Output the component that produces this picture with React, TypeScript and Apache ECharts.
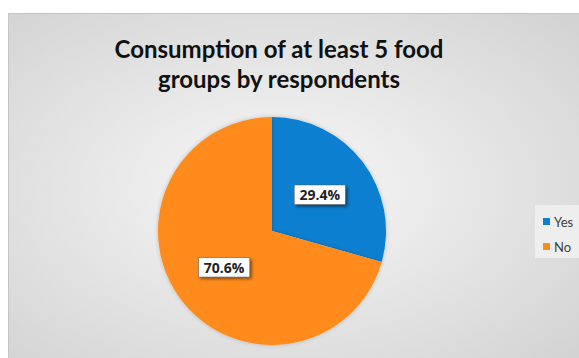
import React, { useEffect, useRef } from "react";
import * as echarts from "echarts";

const categories = ["Yes", "No"];
const values = [29.4, 70.6];
const colors = ["#0B7FD0", "#FF8B1E"];
const titleLines = ["Consumption of at least 5 food", "groups by respondents"];

export default function App() {
  const ref = useRef<HTMLDivElement>(null);
  useEffect(() => {
    if (!ref.current) return;
    const chart = echarts.init(ref.current, null, { renderer: "svg" });
    chart.setOption({
      animation: false,
      backgroundColor: "#ffffff",
      graphic: [
        {
          type: "rect",
          z: -10,
          silent: true,
          shape: { x: 8.5, y: 13.5, width: 575, height: 350 },
          style: {
            fill: {
              type: "radial",
              x: 0.47,
              y: 0.5,
              r: 0.7,
              colorStops: [
                { offset: 0, color: "#f8f8f8" },
                { offset: 1, color: "#d3d3d3" },
              ],
            },
            stroke: "#c4c4c4",
            lineWidth: 1,
          },
        },
        {
          type: "rect",
          z: -5,
          silent: true,
          shape: { x: 535, y: 205, width: 50, height: 53 },
          style: { fill: "rgba(240,240,240,0.9)" },
        },
      ],
      title: {
        text: titleLines.join("\n"),
        left: 274,
        top: 28,
        textAlign: "center",
        textStyle: {
          fontFamily: "Lato",
          fontWeight: "bold",
          fontSize: 24,
          lineHeight: 30,
          color: "#111111",
        },
      },
      legend: {
        orient: "vertical",
        left: 538,
        top: 210,
        itemWidth: 7,
        itemHeight: 7,
        itemGap: 12,
        icon: "rect",
        data: categories,
        textStyle: { fontFamily: "Lato", fontSize: 13, color: "#404040", padding: [0, 0, 0, -1] },
      },
      series: [
        {
          type: "pie",
          center: [272, 231],
          radius: 114,
          startAngle: 90,
          clockwise: true,
          color: colors,
          itemStyle: { shadowBlur: 4, shadowColor: "rgba(0,0,0,0.2)" },
          label: {
            position: "inside",
            formatter: "{c}%",
            fontFamily: "Open Sans",
            fontWeight: "bold",
            fontSize: 14,
            color: "#222222",
            backgroundColor: "#ffffff",
            borderColor: "#555555",
            borderWidth: 0.5,
            padding: [3, 5, 2, 5],
            shadowBlur: 3,
            shadowOffsetX: 2,
            shadowOffsetY: 2,
            shadowColor: "rgba(0,0,0,0.45)",
          },
          labelLine: { show: false },
          data: categories.map((c, i) => ({ name: c, value: values[i] })),
        },
      ],
    });
    return () => chart.dispose();
  }, []);
  return (
    <div
      ref={ref}
      style={{ position: "fixed", left: 0, top: 0, width: 579, height: 358 }}
    />
  );
}
